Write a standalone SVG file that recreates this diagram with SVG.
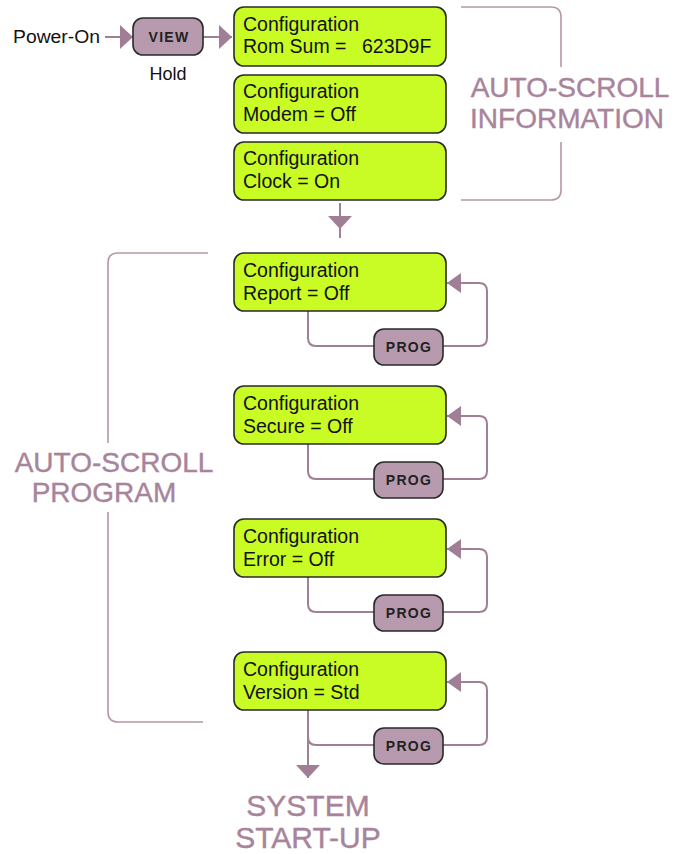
<svg xmlns="http://www.w3.org/2000/svg" width="675" height="854" viewBox="0 0 675 854">
<style>
.lcd{fill:#c9fb24;stroke:#2a2a2a;stroke-width:1.6}
.lcdt{font-family:"Liberation Sans",Arial,sans-serif;font-size:19.5px;fill:#111}
.btn{fill:#b89aaf;stroke:#2a2a2a;stroke-width:1.6}
.btnt{font-family:"Liberation Sans",Arial,sans-serif;font-size:14px;font-weight:bold;fill:#222;letter-spacing:1.3px;text-anchor:middle}
.conn{fill:none;stroke:#a07f96;stroke-width:2}
.brk{fill:none;stroke:#b797aa;stroke-width:1.6}
.big{font-family:"Liberation Sans",Arial,sans-serif;font-size:28px;fill:#a8849b;stroke:#a8849b;stroke-width:0.4;text-anchor:middle}
.lbl{font-family:"Liberation Sans",Arial,sans-serif;font-size:18px;fill:#111}
</style>
<defs>
<marker id="ah" markerUnits="userSpaceOnUse" markerWidth="14" markerHeight="20" refX="14" refY="10" orient="auto">
<path d="M0,0 L14,10 L0,20 z" fill="#a07f96"/>
</marker>
<marker id="aw" markerUnits="userSpaceOnUse" markerWidth="13" markerHeight="24" refX="13" refY="12" orient="auto">
<path d="M0,0 L13,12 L0,24 z" fill="#a07f96"/>
</marker>
</defs>

<g id="connectors">
<path class="conn" d="M105,37 H133" marker-end="url(#aw)"/>
<path class="conn" d="M203,37 H232" marker-end="url(#aw)"/>
<path class="conn" d="M340,203 V238"/>
<path class="conn" d="M340,203 V229" marker-end="url(#aw)"/>
<path class="conn" d="M308,311 V338 Q308,346 316,346 H374 M443,346 H479 Q487,346 487,338 V291 Q487,283 479,283 H447" marker-end="url(#ah)"/>
<path class="conn" d="M308,444 V471 Q308,479 316,479 H374 M443,479 H479 Q487,479 487,471 V424 Q487,416 479,416 H447" marker-end="url(#ah)"/>
<path class="conn" d="M308,577 V604 Q308,612 316,612 H374 M443,612 H479 Q487,612 487,604 V557 Q487,549 479,549 H447" marker-end="url(#ah)"/>
<path class="conn" d="M308,710 V737 Q308,745 316,745 H374 M443,745 H479 Q487,745 487,737 V690 Q487,682 479,682 H447" marker-end="url(#ah)"/>
<path class="conn" d="M308,737 V778" marker-end="url(#aw)"/>
</g>

<g id="bracket-info">
<path class="brk" d="M461,7 H551 Q561,7 561,17 V67 M561,142 V190 Q561,200 551,200 H461"/>
<text class="big" x="570" y="97">AUTO-SCROLL</text>
<text class="big" x="567" y="128">INFORMATION</text>
</g>

<g id="bracket-program">
<path class="brk" d="M208,253 H118 Q108,253 108,263 V443 M108,512 V712 Q108,722 118,722 H203"/>
<text class="big" x="114" y="472">AUTO-SCROLL</text>
<text class="big" x="104" y="502">PROGRAM</text>
</g>

<g id="power-on">
<text class="lbl" x="13" y="43" textLength="87" lengthAdjust="spacingAndGlyphs">Power-On</text>
</g>

<g id="view">
<rect class="btn" x="133" y="18" width="70" height="37" rx="10"/>
<text class="btnt" x="169" y="42">VIEW</text>
<text class="lbl" x="168" y="80" text-anchor="middle">Hold</text>
</g>

<g id="cfg-romsum">
<rect class="lcd" x="234" y="7" width="212" height="59" rx="10"/>
<text class="lcdt" x="243" y="31">Configuration</text>
<text class="lcdt" x="243" y="53">Rom Sum =<tspan x="362">623D9F</tspan></text>
</g>
<g id="cfg-modem">
<rect class="lcd" x="234" y="75" width="212" height="58" rx="10"/>
<text class="lcdt" x="243" y="98">Configuration</text>
<text class="lcdt" x="243" y="121">Modem = Off</text>
</g>
<g id="cfg-clock">
<rect class="lcd" x="234" y="142" width="212" height="58" rx="10"/>
<text class="lcdt" x="243" y="165">Configuration</text>
<text class="lcdt" x="243" y="188">Clock = On</text>
</g>

<g id="cfg-report">
<rect class="lcd" x="234" y="253" width="212" height="58" rx="10"/>
<text class="lcdt" x="243" y="277">Configuration</text>
<text class="lcdt" x="243" y="300">Report = Off</text>
</g>
<g id="prog-report">
<rect class="btn" x="374" y="329" width="69" height="36" rx="10"/>
<text class="btnt" x="409" y="352">PROG</text>
</g>

<g id="cfg-secure">
<rect class="lcd" x="234" y="386" width="212" height="58" rx="10"/>
<text class="lcdt" x="243" y="410">Configuration</text>
<text class="lcdt" x="243" y="433">Secure = Off</text>
</g>
<g id="prog-secure">
<rect class="btn" x="374" y="462" width="69" height="36" rx="10"/>
<text class="btnt" x="409" y="485">PROG</text>
</g>

<g id="cfg-error">
<rect class="lcd" x="234" y="519" width="212" height="58" rx="10"/>
<text class="lcdt" x="243" y="543">Configuration</text>
<text class="lcdt" x="243" y="566">Error = Off</text>
</g>
<g id="prog-error">
<rect class="btn" x="374" y="595" width="69" height="36" rx="10"/>
<text class="btnt" x="409" y="618">PROG</text>
</g>

<g id="cfg-version">
<rect class="lcd" x="234" y="652" width="212" height="58" rx="10"/>
<text class="lcdt" x="243" y="676">Configuration</text>
<text class="lcdt" x="243" y="699">Version = Std</text>
</g>
<g id="prog-version">
<rect class="btn" x="374" y="728" width="69" height="36" rx="10"/>
<text class="btnt" x="409" y="751">PROG</text>
</g>

<g id="system-startup">
<text class="big" x="308" y="816" style="font-size:30px">SYSTEM</text>
<text class="big" x="308" y="848" style="font-size:30px">START-UP</text>
</g>
</svg>
